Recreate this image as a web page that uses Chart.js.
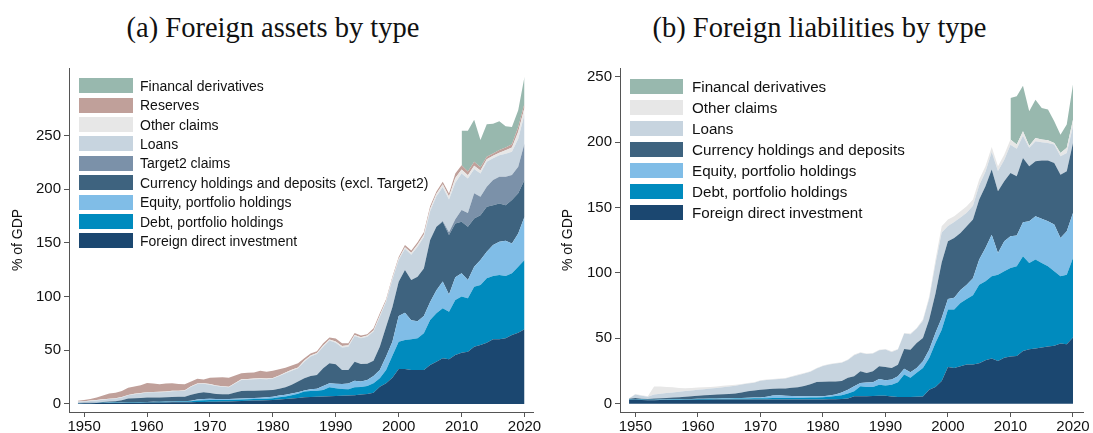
<!DOCTYPE html>
<html>
<head>
<meta charset="utf-8">
<script src="https://cdn.jsdelivr.net/npm/chart.js@4.4.1/dist/chart.umd.min.js"></script>
<style>
  body { margin: 0; background: #fff; }
  #wrap { position: relative; width: 1093px; height: 433px; overflow: hidden; }
  .title { position: absolute; top: 12px; line-height: 32px; text-align: center;
           font-family: "Liberation Serif", "Times New Roman", serif; font-size: 28.5px; color: #111; }
  .box { position: absolute; }
  .leg { position: absolute; font-family: "Liberation Sans", Arial, sans-serif; color: #111; white-space: nowrap; }
  .leg div { position: absolute; display: flex; align-items: center; }
  .leg span.sw { display: inline-block; }
</style>
</head>
<body>
<div id="wrap">
  <div class="title" style="left:0;width:546px">(a) Foreign assets by type</div>
  <div class="title" style="left:546px;width:547px">(b) Foreign liabilities by type</div>
  <div class="box" style="left:0;top:0;width:546px;height:433px"><canvas id="assets" width="546" height="433"></canvas></div>
  <div class="box" style="left:546px;top:0;width:547px;height:433px"><canvas id="liabs" width="547" height="433"></canvas></div>
  <div class="leg" id="legA"></div>
  <div class="leg" id="legB"></div>
</div>
<script>
// years 1949-2020
var years = Array.from({ length: 72 }, function (_, i) { return 1949 + i; });
var xTicks = [1950, 1960, 1970, 1980, 1990, 2000, 2010, 2020];
var yTicksA = [0, 50, 100, 150, 200, 250];
var yTicksB = [0, 50, 100, 150, 200, 250];

// (a) foreign assets, % of GDP
var aFdi = [0.5,0.6,0.7,0.8,0.9,1.0,1.0,1.1,1.1,1.2,1.2,1.3,1.3,1.4,1.4,1.5,1.5,1.6,1.7,1.8,1.9,2.0,2.1,2.2,2.3,2.5,2.7,2.9,3.1,3.3,3.5,3.7,4.2,4.6,5.0,5.5,
  6.2,6.4,6.6,6.9,7.2,7.4,7.6,7.8,8.2,8.8,9.3,10.5,16.1,19.2,24.5,32.5,32.5,31.7,31.7,31.7,36.3,39.4,42.5,41.6,45.6,
  47.8,48.7,53.4,55.0,57.1,60.2,60.2,61.1,64.2,66.4,69.5];
var aDebt = [0.2,0.2,0.2,0.2,0.2,0.2,0.3,0.3,0.4,0.4,0.5,0.5,0.6,0.6,0.6,0.6,0.7,0.7,0.9,1.4,1.6,1.6,1.5,1.4,1.4,1.4,1.4,1.4,1.4,1.4,1.4,1.6,2.0,2.4,3.0,4.0,
  5.3,5.6,5.7,6.1,8.3,7.2,6.4,5.9,7.3,7.0,7.5,8.7,7.8,12.5,20.5,25.5,27.1,28.5,29.4,34.1,41.9,45.0,46.6,44.4,51.2,
  52.2,49.7,55.8,55.8,59.9,59.0,60.0,58.1,57.5,61.5,64.6];
var aEquity = [0.1,0.1,0.1,0.1,0.1,0.1,0.1,0.1,0.1,0.1,0.1,0.1,0.1,0.1,0.2,0.2,0.2,0.2,0.4,1.0,1.1,1.2,1.1,1.0,0.9,0.9,0.9,0.9,1.0,1.1,1.3,1.5,1.6,1.6,1.8,1.5,
  1.1,1.7,1.9,3.8,3.7,4.2,4.5,5.3,6.2,5.2,5.5,6.9,7.8,12.4,13.0,24.0,25.4,17.8,15.9,16.2,16.8,21.6,24.9,16.0,21.2,
  21.7,17.1,18.7,23.3,24.8,28.8,30.9,32.8,27.9,31.0,40.3];
var aCurrency = [0.2,0.2,0.2,0.3,0.6,0.9,1.2,2.0,3.4,3.6,3.8,4.0,4.0,4.0,4.0,4.2,4.2,4.3,5.5,5.7,6.3,5.4,4.6,4.5,4.4,5.8,7.1,7.0,6.8,6.8,6.6,6.2,6.4,6.9,8.2,9.8,
  11.3,12.4,12.8,16.4,18.7,18.2,13.2,12.7,17.7,16.3,15.2,14.2,21.7,27.9,32.0,31.9,39.7,37.4,41.5,44.3,57.7,59.1,55.8,55.3,50.2,
  48.1,49.6,44.9,41.8,41.9,37.2,35.7,33.2,40.4,37.3,34.2];
var aTarget2 = [0,0,0,0,0,0,0,0,0,0,0,0,0,0,0,0,0,0,0,0,0,0,0,0,0,0,0,0,0,0,0,0,0,0,0,0,
  0,0,0,0,0,0,0,0,0,0,0,0,0,0,0,0,0,0,0,0,0,0,0.7,2.7,3.8,
  10.8,12.9,23.4,17.1,18.6,23.4,24.9,26.5,23.2,24.8,34.1];
var aLoans = [1.0,1.2,1.6,1.9,2.2,2.4,2.4,2.5,3.0,3.7,4.2,4.7,4.8,4.9,5.0,5.3,5.4,5.6,7.5,8.6,7.9,7.8,7.5,6.9,6.5,8.4,10.2,10.4,10.7,10.7,10.2,10.6,11.8,13.1,13.0,12.4,
  15.5,18.0,19.6,20.2,21.1,20.1,21.0,21.7,23.9,23.9,25.2,27.1,27.9,23.3,26.0,20.1,19.8,23.6,28.0,29.2,26.8,28.4,31.5,30.5,34.0,
  34.2,32.0,22.8,21.8,23.3,20.4,20.1,21.3,21.8,26.0,27.3];
var aOther = [0.3,0.3,0.3,0.3,0.3,0.3,0.3,0.4,0.4,0.4,0.4,0.4,0.4,0.4,0.4,0.4,0.4,0.4,0.5,0.5,0.5,0.5,0.5,0.5,0.5,0.6,0.6,0.6,0.6,0.6,0.6,0.6,0.6,0.6,0.8,0.8,
  1.0,1.0,0.9,1.1,1.0,1.2,1.3,1.2,1.0,1.0,1.0,1.1,1.2,0.9,1.0,1.3,1.5,1.8,2.0,2.1,2.3,2.3,2.6,2.8,4.5,
  3.7,3.0,3.0,2.7,2.4,2.2,2.2,3.3,4.0,6.5,6.0];
var aReserves = [0.7,1.0,1.5,2.3,3.5,4.9,5.2,5.6,6.6,6.8,7.3,8.6,7.8,7.0,7.4,7.1,6.2,5.5,4.5,4.5,3.5,6.0,7.3,8.3,8.5,6.9,5.7,5.8,5.6,7.1,6.4,6.8,5.8,4.6,4.0,3.9,
  2.1,1.9,1.5,2.0,2.0,2.7,2.5,1.9,1.7,1.6,1.3,2.0,1.9,1.3,1.5,1.7,2.0,2.2,2.1,2.3,2.3,2.2,2.4,2.7,4.2,
  4.0,3.5,3.6,3.0,2.3,2.2,2.5,2.7,3.0,4.5,4.0];
var aDerivatives = [null,null,null,null,null,null,null,null,null,null,null,null,null,null,null,null,null,null,null,null,null,null,null,null,null,null,null,null,null,null,null,null,null,null,null,null,
  null,null,null,null,null,null,null,null,null,null,null,null,null,null,null,null,null,null,null,null,null,null,null,null,null,
  32.0,38.0,39.2,25.5,30.4,27.6,27.0,19.8,16.0,15.7,24.8];

// (b) foreign liabilities, % of GDP
var bFdi = [3.0,3.2,2.8,2.6,2.6,2.7,2.7,2.8,2.8,2.9,2.9,3.0,3.0,3.0,3.1,3.1,3.1,3.2,3.2,3.2,3.2,3.2,3.2,3.2,3.2,3.2,3.2,3.2,3.2,3.2,3.2,3.2,3.3,3.3,3.5,4.0,
  5.6,5.7,5.7,5.8,6.0,6.1,5.5,5.1,5.1,5.1,5.2,5.4,10.7,12.8,17.4,28.0,27.3,28.6,30.0,30.0,30.9,33.2,34.5,32.7,35.2,
  36.0,36.5,40.3,41.6,42.1,42.9,43.7,44.2,46.0,45.5,50.6];
var bDebt = [0.3,0.3,0.3,0.3,0.3,0.3,0.3,0.3,0.4,0.4,0.5,0.5,0.6,0.7,0.6,0.7,0.7,0.7,0.8,0.8,0.9,0.9,1.0,1.1,1.1,1.1,1.2,1.2,1.3,1.4,1.5,1.6,2.0,2.5,3.0,3.7,
  3.8,7.6,7.1,7.0,8.5,7.7,9.0,11.3,17.2,14.7,18.4,21.9,24.3,33.6,39.2,44.0,44.7,48.4,50.0,53.0,60.1,60.4,63.0,66.0,66.1,
  67.8,68.6,72.5,66.0,68.1,64.7,61.4,57.1,51.5,53.2,60.9];
var bEquity = [0.1,0.1,0.1,0.1,0.1,0.1,0.2,0.2,0.2,0.2,0.2,0.2,0.2,0.2,0.3,0.3,0.4,0.4,0.4,0.5,0.5,0.6,1.0,1.9,2.1,1.7,1.4,1.3,1.2,1.0,0.9,0.8,0.9,1.2,2.0,3.0,
  3.9,2.5,3.4,3.6,4.4,4.1,4.0,4.6,4.3,4.2,3.7,5.1,6.3,7.7,9.0,8.0,9.0,10.0,11.0,13.0,19.2,25.4,31.8,16.6,22.9,
  24.3,23.5,26.0,32.0,33.2,33.8,34.5,35.7,29.3,33.2,34.4];
var bCurrency = [0.4,0.8,0.6,0.6,0.9,1.0,1.1,1.3,1.4,1.7,2.0,2.4,2.6,2.7,2.9,3.1,3.2,3.4,4.1,5.0,5.4,6.0,5.8,5.1,5.1,5.6,6.3,6.9,7.7,9.2,10.9,11.2,10.7,9.9,8.8,9.2,
  7.7,9.0,7.3,8.4,9.7,10.2,8.8,8.8,15.2,17.3,19.1,17.8,23.0,29.9,42.4,44.2,45.8,43.6,44.7,44.8,45.9,47.3,49.8,47.2,45.9,
  48.4,45.4,49.2,42.0,42.0,44.6,46.4,47.1,48.4,45.9,53.5];
var bLoans = [0.2,2.6,2.2,1.6,3.0,3.4,3.9,4.0,4.2,4.4,4.5,4.6,4.7,4.9,5.0,5.4,5.8,6.0,6.1,5.9,5.9,6.8,7.0,7.2,7.3,7.6,8.5,9.2,9.7,9.6,10.4,11.9,13.1,13.8,13.9,13.4,
  16.1,14.1,14.4,13.6,12.3,13.3,12.3,11.6,11.8,11.8,11.0,13.3,16.2,23.0,23.0,11.8,12.2,11.9,10.3,10.7,10.9,11.2,13.4,15.5,16.4,
  21.5,21.0,17.0,14.1,15.4,14.0,13.5,14.1,14.1,14.0,12.8];
var bOther = [0.2,0.4,0.4,0.4,6.3,5.7,4.5,3.9,2.9,2.2,1.9,1.7,1.5,1.3,1.3,1.1,0.9,0.8,0.5,0.4,0.4,0.4,0.4,0.4,0.4,0.4,0.4,0.4,0.4,0.4,0.4,0.4,0.4,0.4,0.4,0.4,
  0.4,0.4,0.4,0.4,0.4,0.4,0.4,0.4,0.5,0.5,0.5,1.0,1.5,3.0,4.7,4.8,4.4,4.7,5.0,4.6,4.4,4.1,3.9,3.6,4.0,
  4.0,3.2,3.4,1.7,2.5,2.0,2.0,1.2,2.5,3.9,5.1];
var bDerivatives = [null,null,null,null,null,null,null,null,null,null,null,null,null,null,null,null,null,null,null,null,null,null,null,null,null,null,null,null,null,null,null,null,null,null,null,null,
  null,null,null,null,null,null,null,null,null,null,null,null,null,null,null,null,null,null,null,null,null,null,null,null,null,
  31.9,37.0,34.9,26.3,29.3,24.2,23.5,16.6,14.0,17.8,26.8];

var col = {
  deriv: "#98b8ae", reserves: "#c0a09a", other: "#e7e7e7", loans: "#c7d4df",
  target2: "#7b91a9", currency: "#3e637f", equity: "#80bde7", debt: "#008bbe", fdi: "#1b4770"
};

// bottom to top
var seriesA = [
  { label: "Foreign direct investment", data: aFdi, color: col.fdi },
  { label: "Debt, portfolio holdings", data: aDebt, color: col.debt },
  { label: "Equity, portfolio holdings", data: aEquity, color: col.equity },
  { label: "Currency holdings and deposits (excl. Target2)", data: aCurrency, color: col.currency },
  { label: "Target2 claims", data: aTarget2, color: col.target2 },
  { label: "Loans", data: aLoans, color: col.loans },
  { label: "Other claims", data: aOther, color: col.other },
  { label: "Reserves", data: aReserves, color: col.reserves },
  { label: "Financal derivatives", data: aDerivatives, color: col.deriv }
];
var seriesB = [
  { label: "Foreign direct investment", data: bFdi, color: col.fdi },
  { label: "Debt, portfolio holdings", data: bDebt, color: col.debt },
  { label: "Equity, portfolio holdings", data: bEquity, color: col.equity },
  { label: "Currency holdings and deposits", data: bCurrency, color: col.currency },
  { label: "Loans", data: bLoans, color: col.loans },
  { label: "Other claims", data: bOther, color: col.other },
  { label: "Financal derivatives", data: bDerivatives, color: col.deriv }
];

var tickFont = { family: "'Liberation Sans', Arial, sans-serif", size: 15 };
var axisColor = "#555";

function makeChart(id, series, yTicks, g) {
  new Chart(document.getElementById(id), {
    type: "line",
    data: {
      datasets: series.map(function (s, i) {
        return {
          label: s.label,
          data: years.map(function (yr, k) { return { x: yr, y: s.data[k] }; }),
          backgroundColor: s.color,
          borderColor: "rgba(0,0,0,0)",
          borderWidth: 0,
          pointRadius: 0,
          tension: 0,
          fill: i === 0 ? "origin" : "-1"
        };
      })
    },
    options: {
      responsive: false,
      animation: false,
      events: [],
      layout: { padding: { left: 0, top: g.top, right: g.right, bottom: 0 } },
      plugins: { legend: { display: false }, tooltip: { enabled: false } },
      scales: {
        x: {
          type: "linear",
          min: g.xmin,
          max: g.xmax,
          afterBuildTicks: function (s) { s.ticks = xTicks.map(function (v) { return { value: v }; }); },
          afterFit: function (s) { s.height = g.xh; },
          ticks: { callback: function (v) { return String(v); }, font: tickFont, color: "#111", padding: 1, maxRotation: 0, autoSkip: false },
          grid: { drawOnChartArea: false, drawTicks: true, tickLength: 5, color: axisColor },
          border: { display: true, color: axisColor, width: 1 }
        },
        y: {
          stacked: true,
          min: g.ymin,
          max: g.ymax,
          afterBuildTicks: function (s) { s.ticks = yTicks.map(function (v) { return { value: v }; }); },
          afterFit: function (s) { s.width = g.yw; },
          ticks: { callback: function (v) { return String(v); }, font: tickFont, color: "#111", padding: 3 },
          grid: { drawOnChartArea: false, drawTicks: true, tickLength: 5, color: axisColor },
          border: { display: true, color: axisColor, width: 1 },
          title: { display: true, text: "% of GDP", color: "#111", padding: { top: g.tpad, bottom: 0 },
                   font: { family: "'Liberation Sans', Arial, sans-serif", size: 14 } }
        }
      }
    }
  });
}

makeChart("assets", seriesA, yTicksA,
  { top: 68, right: 13, xh: 21, yw: 69, tpad: 10, xmin: 1947.6, xmax: 2021.35, ymin: -7.5, ymax: 313 });
makeChart("liabs", seriesB, yTicksB,
  { top: 68, right: 10, xh: 21, yw: 74, tpad: 14, xmin: 1947.55, xmax: 2021.6, ymin: -6.4, ymax: 256.8 });

// legends (top entry first)
function makeLegend(id, series, x0, y0, step, tx, fs, bw) {
  var el = document.getElementById(id);
  series.slice().reverse().forEach(function (s, i) {
    var row = document.createElement("div");
    row.style.left = x0 + "px";
    row.style.top = (y0 + i * step - 8) + "px";
    row.style.height = "16px";
    row.style.fontSize = fs + "px";
    var sw = document.createElement("span");
    sw.className = "sw";
    sw.style.width = bw + "px";
    sw.style.height = "15px";
    sw.style.background = s.color;
    sw.style.marginRight = (tx - x0 - bw) + "px";
    row.appendChild(sw);
    row.appendChild(document.createTextNode(s.label));
    el.appendChild(row);
  });
}
makeLegend("legA", seriesA, 79, 85.7, 19.4, 140, 14, 54);
makeLegend("legB", seriesB, 630, 86.7, 20.9, 692, 15.2, 53);
</script>
</body>
</html>
